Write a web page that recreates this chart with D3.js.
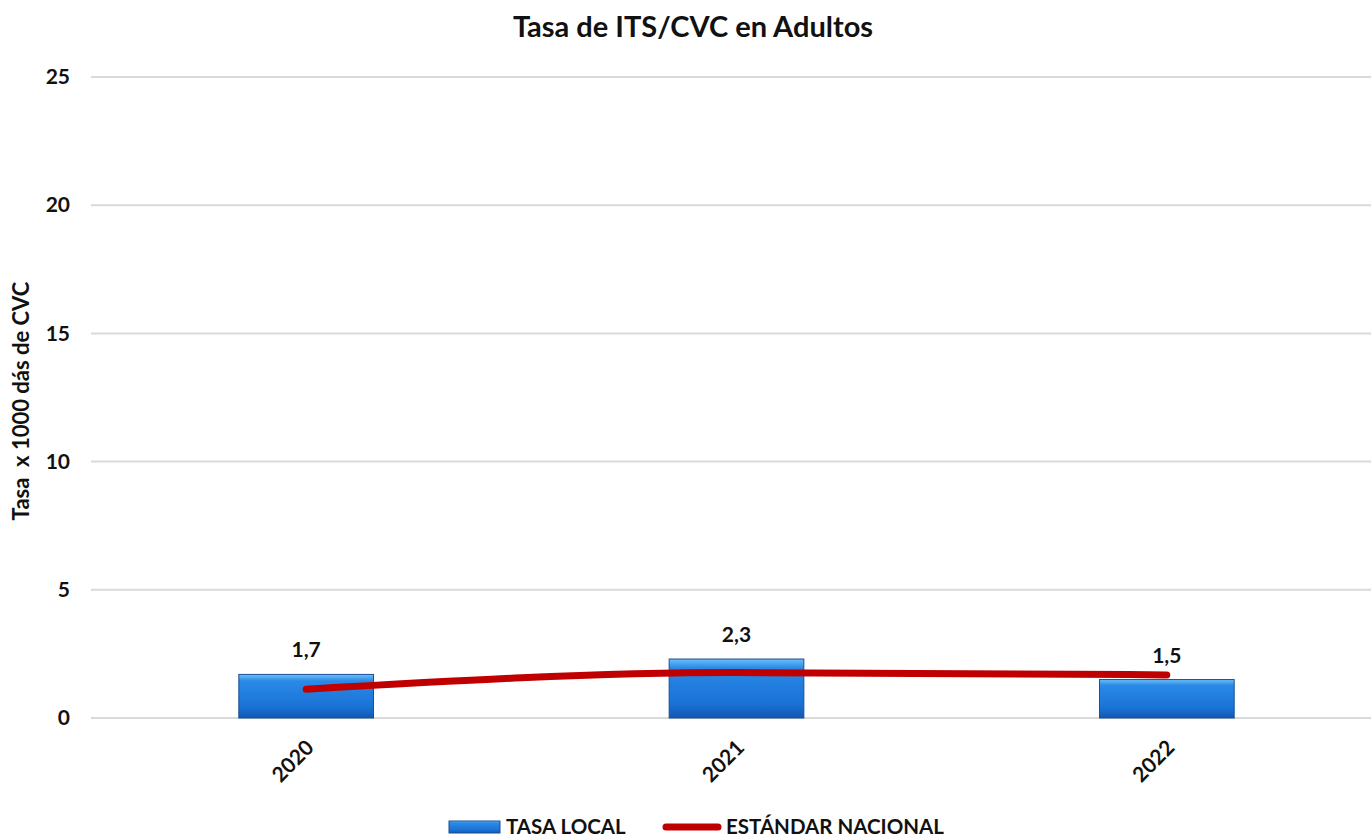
<!DOCTYPE html>
<html>
<head>
<meta charset="utf-8">
<script src="https://cdn.jsdelivr.net/npm/d3@7"></script>
<style>
  body { margin: 0; background: #fff; }
  text { font-family: Lato, "Open Sans", sans-serif; font-weight: bold; fill: #111; }
</style>
</head>
<body>
<div id="plot"></div>
<script>
// data
var years = ["2020", "2021", "2022"];
var tasaLocal = [1.7, 2.3, 1.5];
var estandarNacional = [1.12, 1.77, 1.68];
var yTicks = [0, 5, 10, 15, 20, 25];

var svgWidth = 1371;
var svgHeight = 838;

var margin = { top: 77, right: -11, bottom: 120, left: 91 };
var width = svgWidth - margin.left - margin.right;
var height = svgHeight - margin.top - margin.bottom;

var svg = d3.select("#plot")
  .append("svg")
  .attr("width", svgWidth)
  .attr("height", svgHeight);

// bar gradient
var defs = svg.append("defs");
var grad = defs.append("linearGradient")
  .attr("id", "barGrad")
  .attr("x1", 0).attr("y1", 0).attr("x2", 0).attr("y2", 1);
grad.append("stop").attr("offset", "0%").attr("stop-color", "#6cc0fa");
grad.append("stop").attr("offset", "15%").attr("stop-color", "#2a8ae6");
grad.append("stop").attr("offset", "75%").attr("stop-color", "#1a72d6");
grad.append("stop").attr("offset", "100%").attr("stop-color", "#1257b0");

var chartGroup = svg.append("g")
  .attr("transform", `translate(${margin.left}, ${margin.top})`);

var xScale = d3.scaleBand()
  .domain(years)
  .range([0, width]);

var yScale = d3.scaleLinear()
  .domain([0, 25])
  .range([height, 0]);

// gridlines
chartGroup.selectAll(".grid")
  .data(yTicks)
  .enter()
  .append("line")
  .attr("x1", 0)
  .attr("x2", width)
  .attr("y1", d => yScale(d))
  .attr("y2", d => yScale(d))
  .attr("stroke", "#d9d9d9")
  .attr("stroke-width", 2);

// y axis labels
var leftAxis = d3.axisLeft(yScale).tickValues(yTicks).tickSize(0).tickPadding(21);
var yAxis = chartGroup.append("g").call(leftAxis);
yAxis.select(".domain").remove();
yAxis.selectAll("text").attr("font-size", "21px");

// x axis labels
var bottomAxis = d3.axisBottom(xScale).tickSize(0).tickPadding(0);
var xAxis = chartGroup.append("g")
  .attr("transform", `translate(0, ${height})`)
  .call(bottomAxis);
xAxis.select(".domain").remove();
xAxis.selectAll("text")
  .attr("font-size", "21px")
  .attr("text-anchor", "end")
  .attr("dy", 0)
  .attr("transform", "translate(9, 31) rotate(-45)");

// bars
var barW = xScale.bandwidth() * 0.313;
chartGroup.selectAll(".bar")
  .data(tasaLocal)
  .enter()
  .append("rect")
  .attr("class", "bar")
  .attr("x", (d, i) => xScale(years[i]) + xScale.bandwidth() / 2 - barW / 2)
  .attr("y", d => yScale(d))
  .attr("width", barW)
  .attr("height", d => height - yScale(d))
  .attr("fill", "url(#barGrad)")
  .attr("stroke", "#1b4f92")
  .attr("stroke-width", 1);

// value labels
chartGroup.selectAll(".val")
  .data(tasaLocal)
  .enter()
  .append("text")
  .attr("class", "val")
  .attr("x", (d, i) => xScale(years[i]) + xScale.bandwidth() / 2)
  .attr("y", d => yScale(d) - 17)
  .attr("text-anchor", "middle")
  .attr("font-size", "21px")
  .text(d => d3.format(".1f")(d).replace(".", ","));

// standard line
var line = d3.line()
  .x((d, i) => xScale(years[i]) + xScale.bandwidth() / 2)
  .y(d => yScale(d))
  .curve(d3.curveMonotoneX);

chartGroup.append("path")
  .datum(estandarNacional)
  .attr("d", line)
  .attr("fill", "none")
  .attr("stroke", "#c00000")
  .attr("stroke-width", 7)
  .attr("stroke-linecap", "round");

// title
svg.append("text")
  .attr("x", 693)
  .attr("y", 37)
  .attr("text-anchor", "middle")
  .attr("font-size", "29px")
  .text("Tasa de ITS/CVC en Adultos");

// y axis title
svg.append("text")
  .attr("transform", "rotate(-90)")
  .attr("x", -401)
  .attr("y", 29)
  .attr("text-anchor", "middle")
  .attr("font-size", "22px")
  .attr("xml:space", "preserve")
  .text("Tasa  x 1000 dás de CVC");

// legend
var legend = svg.append("g");
legend.append("rect")
  .attr("x", 449).attr("y", 821)
  .attr("width", 51).attr("height", 12)
  .attr("fill", "url(#barGrad)")
  .attr("stroke", "#1b4f92");
legend.append("text")
  .attr("x", 506).attr("y", 834)
  .attr("font-size", "20.5px")
  .text("TASA LOCAL");
legend.append("line")
  .attr("x1", 666).attr("x2", 718)
  .attr("y1", 827).attr("y2", 827)
  .attr("stroke", "#c00000")
  .attr("stroke-width", 7)
  .attr("stroke-linecap", "round");
legend.append("text")
  .attr("x", 726).attr("y", 834)
  .attr("font-size", "20.5px")
  .text("ESTÁNDAR NACIONAL");
</script>
</body>
</html>
